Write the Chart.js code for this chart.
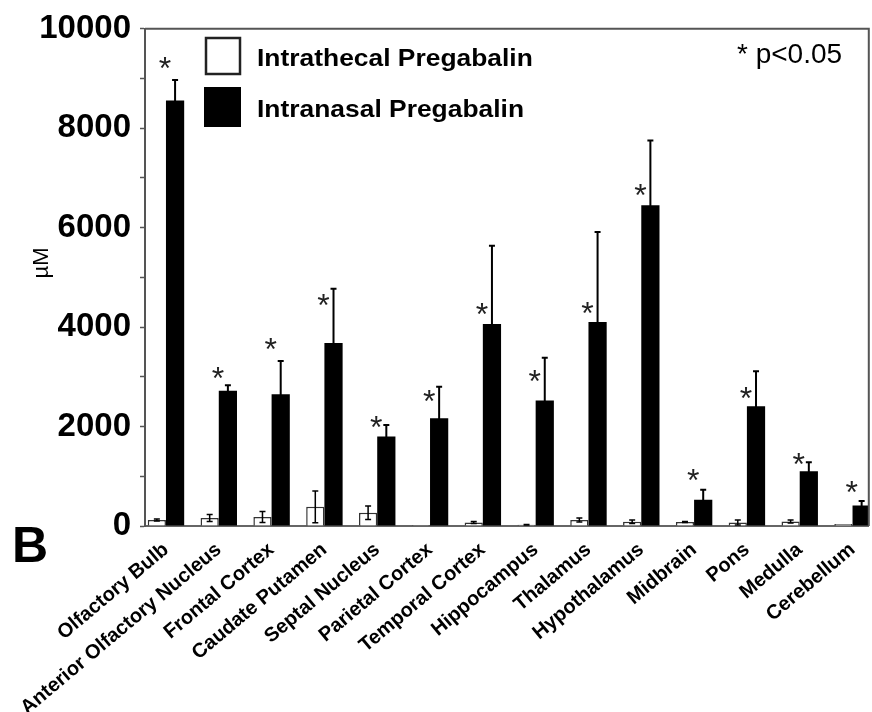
<!DOCTYPE html>
<html lang="en">
<head>
    <meta charset="UTF-8">
    <title>Pregabalin in Brain Regions</title>
    <script src="https://cdn.jsdelivr.net/npm/chart.js"></script>
    <style>
        html, body {
            margin: 0;
            padding: 0;
            background: #fff;
            overflow: hidden;
        }
    </style>
</head>
<body>
    <canvas id="brainChart" width="872" height="712"></canvas>

    <script>
        const regions = ['Olfactory Bulb', 'Anterior Olfactory Nucleus', 'Frontal Cortex', 'Caudate Putamen',
            'Septal Nucleus', 'Parietal Cortex', 'Temporal Cortex', 'Hippocampus', 'Thalamus',
            'Hypothalamus', 'Midbrain', 'Pons', 'Medulla', 'Cerebellum'];
        const intrathecal = [120, 160, 180, 385, 265, 20, 70, 25, 120, 85, 80, 70, 90, 40];
        const intrathecalErr = [20, 70, 110, 320, 135, 0, 20, 5, 40, 35, 10, 50, 30, 0];
        const intranasal = [8560, 2720, 2650, 3680, 1800, 2165, 4065, 2525, 4105, 6450, 530, 2410, 1100, 410];
        const intranasalErr = [410, 110, 670, 1090, 230, 635, 1570, 860, 1810, 1305, 200, 700, 180, 95];
        // height of the significance asterisk over each intranasal bar, in µM
        const starLevel = [9220, 2975, 3550, 4440, 2000, 2510, 4270, 2910, 4290, 6660, 935, 2575, 1250, 685];
        const yLabelEvery = 2000;

        const font = 'Arial, "Liberation Sans", sans-serif';

        // draws text stretched horizontally, the original figure's type is a bit wide
        function wideText(ctx, text, x, y, sx) {
            ctx.save();
            ctx.translate(x, y);
            ctx.scale(sx, 1);
            ctx.fillText(text, 0, 0);
            ctx.restore();
        }

        // error bars, asterisks, frame, legend and panel text
        const extras = {
            id: 'extras',
            afterDatasetsDraw(chart) {
                const ctx = chart.ctx;
                const area = chart.chartArea;
                const y = chart.scales.y;
                ctx.save();

                const sets = [
                    [0, intrathecal, intrathecalErr, 1.5],
                    [1, intranasal, intranasalErr, 2]
                ];
                ctx.strokeStyle = '#000';
                sets.forEach(([di, vals, errs, lw]) => {
                    chart.getDatasetMeta(di).data.forEach((bar, i) => {
                        if (!errs[i]) return;
                        const top = y.getPixelForValue(vals[i] + errs[i]);
                        const bot = y.getPixelForValue(Math.max(vals[i] - errs[i], 0));
                        ctx.lineWidth = lw;
                        ctx.beginPath();
                        ctx.moveTo(bar.x, bot);
                        ctx.lineTo(bar.x, top);
                        ctx.moveTo(bar.x - 3, top);
                        ctx.lineTo(bar.x + 3, top);
                        ctx.moveTo(bar.x - 3, bot);
                        ctx.lineTo(bar.x + 3, bot);
                        ctx.stroke();
                    });
                });

                // asterisks, centred on their level using the glyph's own box
                ctx.fillStyle = '#222';
                ctx.font = '32px ' + font;
                ctx.textAlign = 'center';
                ctx.textBaseline = 'alphabetic';
                const m = ctx.measureText('*');
                const mid = (m.actualBoundingBoxAscent - m.actualBoundingBoxDescent) / 2;
                chart.getDatasetMeta(1).data.forEach((bar, i) => {
                    ctx.fillText('*', bar.x - 10, y.getPixelForValue(starLevel[i]) + mid - 5);
                });

                // frame top and right
                ctx.strokeStyle = '#555';
                ctx.lineWidth = 2;
                ctx.beginPath();
                ctx.moveTo(area.left, area.top);
                ctx.lineTo(area.right, area.top);
                ctx.lineTo(area.right, area.bottom);
                ctx.stroke();

                // legend
                const ds = chart.data.datasets;
                ctx.lineWidth = 2.5;
                ctx.strokeStyle = '#222';
                ctx.fillStyle = '#fff';
                ctx.fillRect(206, 38, 34, 36);
                ctx.strokeRect(206, 38, 34, 36);
                ctx.fillStyle = '#000';
                ctx.fillRect(204, 87, 37, 40);
                ctx.font = 'bold 24px ' + font;
                ctx.textAlign = 'left';
                ctx.textBaseline = 'middle';
                wideText(ctx, ds[0].label, 257, 59, 1.1);
                wideText(ctx, ds[1].label, 257, 110, 1.1);

                ctx.font = '28px ' + font;
                ctx.fillText('* p<0.05', 737, 55);

                // axis title and panel letter
                ctx.save();
                ctx.translate(42, 263);
                ctx.rotate(-Math.PI / 2);
                ctx.textAlign = 'center';
                ctx.font = '22px ' + font;
                ctx.fillText('\u00b5M', 0, 0);
                ctx.restore();

                ctx.font = 'bold 50px ' + font;
                ctx.textAlign = 'left';
                ctx.fillText('B', 12, 548);

                ctx.restore();
            }
        };

        const ctx = document.getElementById('brainChart').getContext('2d');
        new Chart(ctx, {
            type: 'bar',
            data: {
                datasets: [{
                    label: 'Intrathecal Pregabalin',
                    data: intrathecal.map((v, i) => ({ x: i, y: v })),
                    backgroundColor: '#fff',
                    borderColor: '#333',
                    borderWidth: 1.5,
                    categoryPercentage: 0.69,
                    barPercentage: 1.0
                }, {
                    label: 'Intranasal Pregabalin',
                    data: intranasal.map((v, i) => ({ x: i, y: v })),
                    backgroundColor: '#000',
                    borderColor: '#000',
                    borderWidth: 0,
                    categoryPercentage: 0.69,
                    barPercentage: 1.0
                }]
            },
            options: {
                responsive: false,
                animation: false,
                layout: { padding: { top: 24, right: 2, left: 0, bottom: 0 } },
                plugins: {
                    legend: { display: false },
                    tooltip: { enabled: false }
                },
                scales: {
                    x: {
                        type: 'linear',
                        offset: false,
                        min: -0.397,
                        max: 13.308,
                        afterBuildTicks: axis => {
                            axis.ticks = regions.map((_, i) => ({ value: i }));
                        },
                        afterFit: axis => { axis.height = 186; },
                        grid: { display: false, offset: false },
                        border: { color: '#666', width: 2 },
                        ticks: {
                            autoSkip: false,
                            minRotation: 40,
                            maxRotation: 40,
                            padding: 4,
                            color: '#000',
                            font: { family: font, size: 20, weight: 'bold' },
                            callback: v => regions[v]
                        }
                    },
                    y: {
                        min: 0,
                        max: 10000,
                        afterFit: axis => { axis.width = 145; },
                        grid: {
                            drawOnChartArea: false,
                            tickLength: 5,
                            tickWidth: 1.5,
                            color: '#555'
                        },
                        border: { color: '#555', width: 2 },
                        ticks: {
                            stepSize: 1000,
                            padding: 9,
                            color: '#000',
                            font: { family: font, size: 33, weight: 'bold' },
                            callback: v => (v % yLabelEvery === 0 ? v : '')
                        }
                    }
                }
            },
            plugins: [extras]
        });
    </script>
</body>
</html>
